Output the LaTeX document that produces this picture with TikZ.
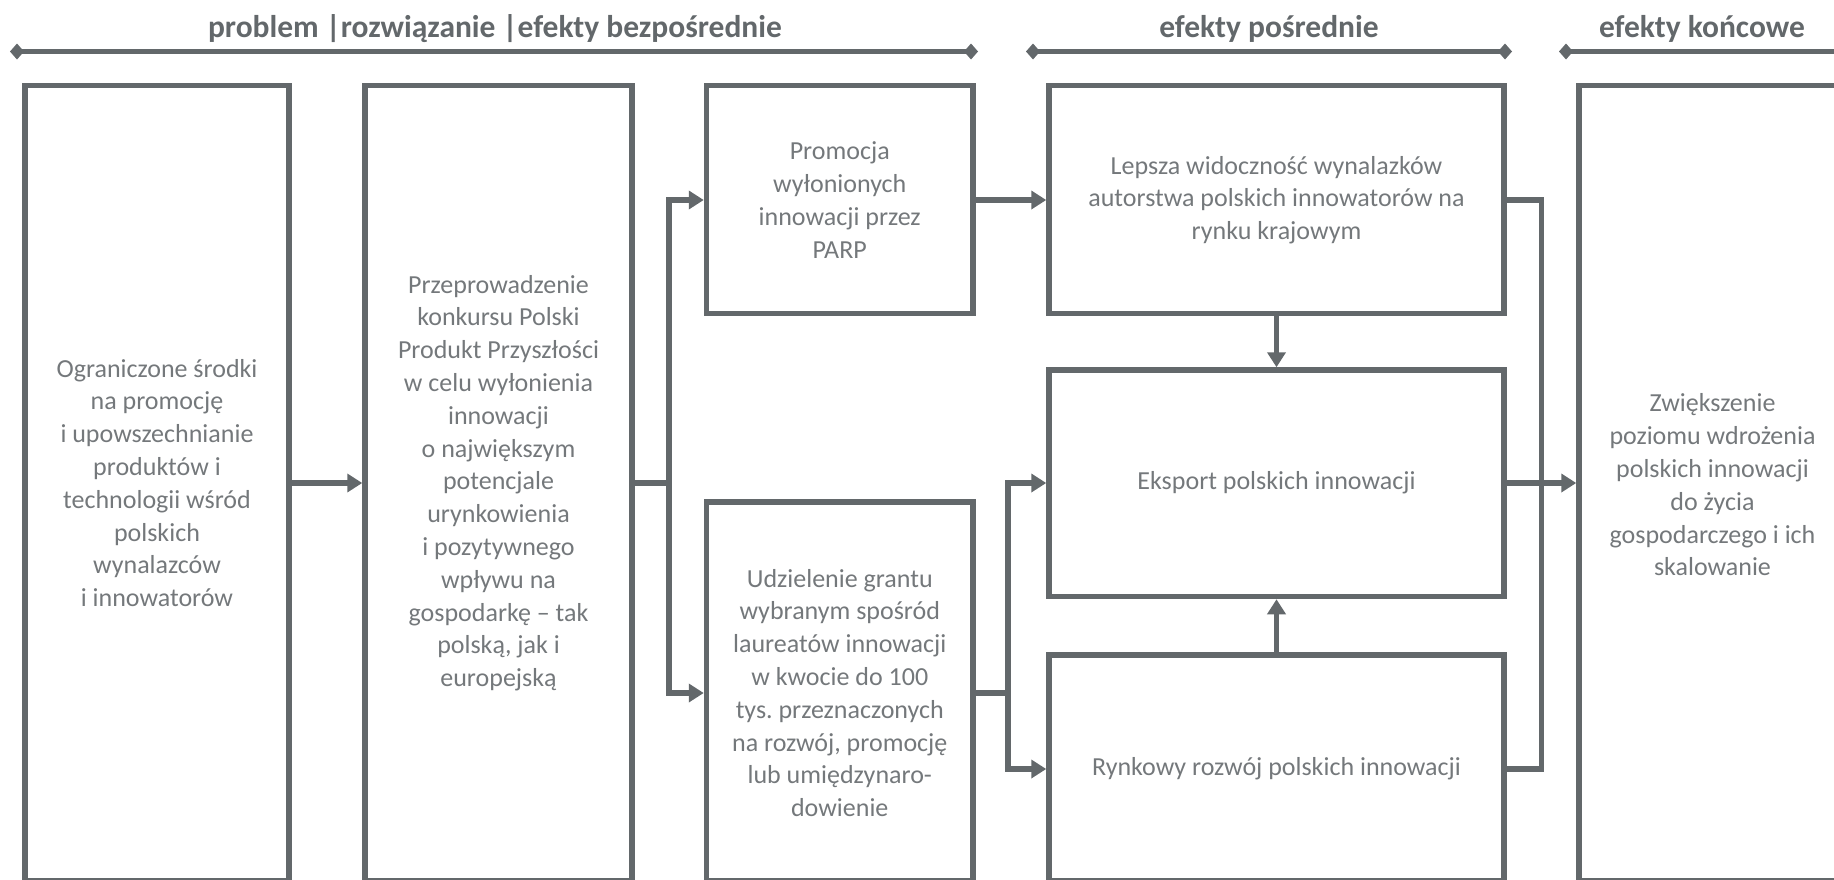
\documentclass[tikz,border=0pt]{standalone}
\usepackage{fontspec}
\setmainfont{Carlito}
\frenchspacing
\usetikzlibrary{arrows.meta}
\definecolor{linegray}{RGB}{99,104,107}
\definecolor{textgray}{RGB}{116,120,123}
\tikzset{
  box/.style={draw=linegray, line width=5.5pt, inner sep=0pt, outer sep=2.75pt, rectangle},
  txt/.style={align=center, text=textgray, inner sep=0pt,
    font=\fontsize{26}{32.8}\selectfont},
  head/.style={text=linegray, inner sep=0pt, font=\fontsize{31.5}{36}\selectfont\bfseries},
  conn/.style={draw=linegray, line width=5.5pt},
  arr/.style={conn, -{Triangle[length=15pt,width=18pt]}},
  band/.style={draw=linegray, line width=5.5pt,
    {Diamond[length=14pt,width=16pt]}-{Diamond[length=14pt,width=16pt]}},
}
\begin{document}
\begin{tikzpicture}[x=1pt,y=-1pt]
\useasboundingbox (0,0) rectangle (1834,879);

% column headers with their bands
\node[head] (h1) at (495,29) {problem |rozwiązanie |efekty bezpośrednie};
\node[head] (h2) at (1269,29) {efekty pośrednie};
\node[head] (h3) at (1702,29) {efekty końcowe};
\coordinate (h1a) at (10,51.5);  \coordinate (h1b) at (978,51.5);
\coordinate (h2a) at (1026,51.5); \coordinate (h2b) at (1512,51.5);
\coordinate (h3a) at (1559,51.5); \coordinate (h3b) at (1860,51.5);
\draw[band] (h1a) -- (h1b);
\draw[band] (h2a) -- (h2b);
\draw[band] (h3a) -- (h3b);

% boxes
\node[box, minimum width=264pt, minimum height=795.5pt] (b1) at (157,483.25) {};
\node[box, minimum width=267pt, minimum height=795.5pt] (b2) at (498.5,483.25) {};
\node[box, minimum width=266.5pt, minimum height=228pt] (b3) at (839.75,199.5) {};
\node[box, minimum width=266.5pt, minimum height=379pt] (b4) at (839.75,691.5) {};
\node[box, minimum width=455pt, minimum height=228pt] (b5) at (1276.5,199.5) {};
\node[box, minimum width=455pt, minimum height=226.5pt] (b6) at (1276.5,483.25) {};
\node[box, minimum width=455pt, minimum height=226pt] (b7) at (1276.5,768) {};
\node[box, minimum width=267pt, minimum height=795.5pt] (b8) at (1712.5,483.25) {};

% box texts
\node[txt] (t1) at (157,483) {Ograniczone środki\\na promocję\\i upowszechnianie\\produktów i\\technologii wśród\\polskich\\wynalazców\\i innowatorów};
\node[txt] (t2) at (498.5,483) {Przeprowadzenie\\konkursu Polski\\Produkt Przyszłości\\w celu wyłonienia\\innowacji\\o największym\\potencjale\\urynkowienia\\i pozytywnego\\wpływu na\\gospodarkę – tak\\polską, jak i\\europejską};
\node[txt] (t3) at (839.75,200) {Promocja\\wyłonionych\\innowacji przez\\PARP};
\node[txt] (t4) at (839.75,693) {Udzielenie grantu\\wybranym spośród\\laureatów innowacji\\w kwocie do 100\\tys. przeznaczonych\\na rozwój, promocję\\lub umiędzynaro-\\dowienie};
\node[txt] (t5) at (1276.5,200) {Lepsza widoczność wynalazków\\autorstwa polskich innowatorów na\\rynku krajowym};
\node[txt] (t6) at (1276.5,483) {Eksport polskich innowacji};
\node[txt] (t7) at (1276.5,769) {Rynkowy rozwój polskich innowacji};
\node[txt] (t8) at (1712.5,485) {Zwiększenie\\poziomu wdrożenia\\polskich innowacji\\do życia\\gospodarczego i ich\\skalowanie};

% junction columns
\coordinate (j1) at (669,0);
\coordinate (j2) at (1008,0);
\coordinate (j3) at (1541.5,0);

% connectors
\draw[arr] (b1.east |- t1) -- (b2.west |- t1);
\draw[arr] (b2.east |- t2) -| (j1 |- t3) -- (b3.west |- t3);
\draw[arr] (j1 |- t2) |- (b4.west |- t4);
\draw[arr] (b3.east |- t3) -- (b5.west |- t3);
\draw[arr] (b4.east |- t4) -| (j2 |- t6) -- (b6.west |- t6);
\draw[arr] (j2 |- t4) |- (b7.west |- t7);
\draw[arr] (b5.south) -- (b6.north);
\draw[arr] (b7.north) -- (b6.south);
\draw[conn] (b5.east |- t5) -| (j3 |- t7) -- (b7.east |- t7);
\draw[arr] (b6.east |- t6) -- (b8.west |- t6);
\end{tikzpicture}
\end{document}
